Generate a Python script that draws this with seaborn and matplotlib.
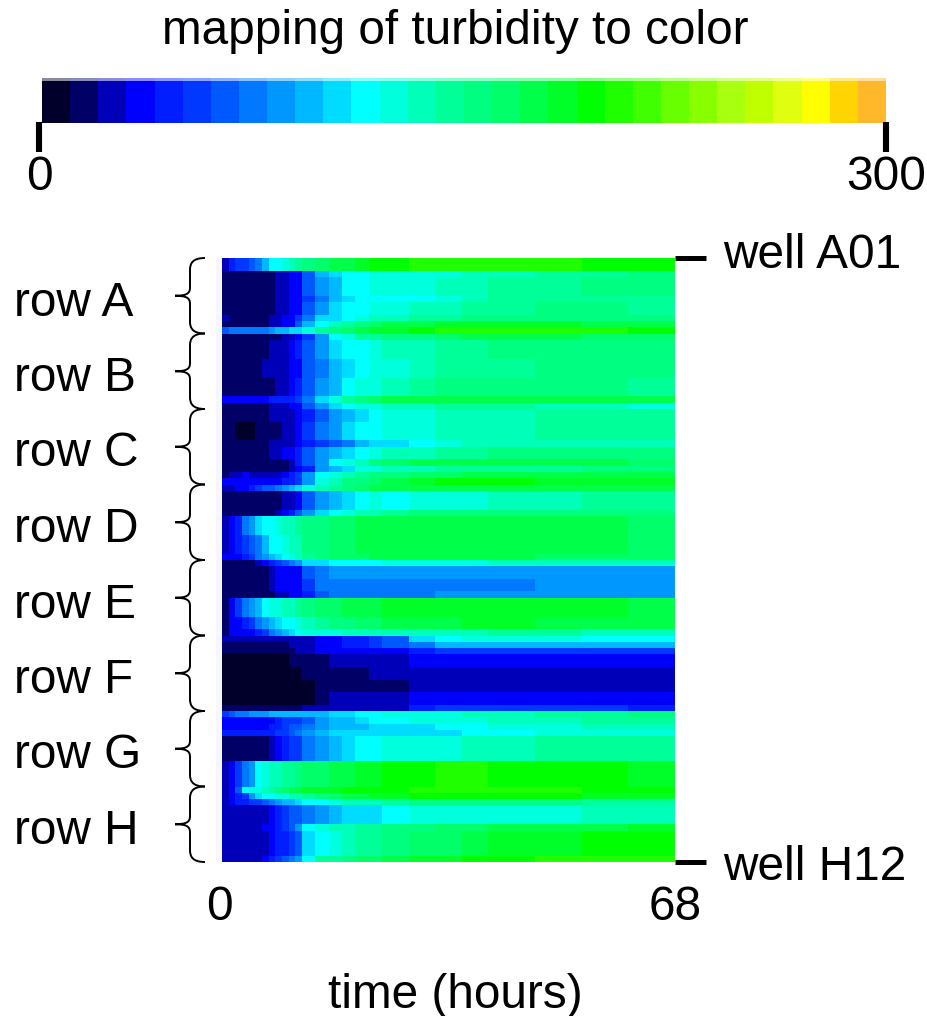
import numpy as np
import matplotlib
matplotlib.use("Agg")
import matplotlib.pyplot as plt
from matplotlib.colors import ListedColormap, BoundaryNorm
from matplotlib.path import Path
from matplotlib.patches import PathPatch
import seaborn as sns

# Colour scale, one step per 10 turbidity units
scale_colors = ["#00002a", "#000066", "#0000b8", "#0000ff", "#001eff", "#0038ff",
                "#0058ff", "#0078ff", "#0098ff", "#00b8ff", "#00dcff", "#00ffff",
                "#00ffdc", "#00ffb8", "#00ff98", "#00ff80", "#00ff68", "#00ff48",
                "#00ff28", "#00ff00", "#20ff00", "#40ff00", "#68ff00", "#88ff00",
                "#a8ff10", "#c0ff00", "#e0ff10", "#ffff00", "#ffd400", "#ffb82a"]
scale_edges = np.arange(0, 310, 10)
well_labels = ["well A01", "well H12"]
row_labels = ["row A", "row B", "row C", "row D", "row E", "row F", "row G", "row H"]

# Hours covered by each sampled column
hour_spans = [1] * 12 + [2] * 6 + [4] * 4 + [7] * 4

# Each row of the plate: turbidity over time for runs of similar wells
row_a_wells = [2, 1, 3, 1, 2, 1, 1, 1]
row_a = [
    [25, 40, 50, 55, 60, 75, 95, 110, 118, 125, 130, 140, 150, 160, 170, 178, 185, 190, 195, 200, 200, 200, 200, 200, 198, 198],
    [15, 15, 15, 15, 15, 15, 15, 15, 20, 25, 30, 38, 65, 95, 105, 112, 118, 120, 122, 125, 128, 130, 135, 140, 145, 150],
    [10, 10, 10, 10, 10, 10, 10, 15, 20, 25, 30, 35, 60, 80, 95, 110, 118, 122, 125, 128, 130, 135, 140, 145, 150, 150],
    [15, 15, 10, 10, 15, 15, 15, 15, 20, 25, 30, 35, 55, 75, 90, 105, 110, 115, 118, 118, 125, 135, 140, 145, 145, 140],
    [15, 15, 10, 10, 10, 10, 10, 15, 20, 25, 30, 35, 60, 80, 100, 110, 118, 122, 125, 130, 135, 140, 145, 150, 150, 145],
    [20, 15, 15, 15, 15, 15, 15, 20, 25, 30, 35, 50, 75, 100, 105, 118, 125, 130, 135, 140, 145, 150, 155, 155, 150, 150],
    [15, 15, 15, 15, 15, 15, 15, 20, 25, 30, 35, 60, 95, 118, 130, 145, 155, 160, 170, 175, 180, 185, 185, 180, 175, 170],
    [65, 70, 70, 70, 70, 70, 75, 85, 90, 95, 100, 105, 120, 140, 155, 165, 175, 180, 185, 195, 200, 205, 205, 205, 200, 195],
]
row_b_wells = [1, 3, 3, 3, 1, 1]
row_b = [
    [15, 15, 15, 15, 15, 15, 15, 15, 15, 20, 25, 30, 50, 85, 110, 125, 140, 145, 150, 155, 165, 170, 170, 170, 165, 165],
    [15, 15, 15, 15, 15, 15, 15, 25, 25, 28, 35, 40, 65, 85, 100, 110, 118, 122, 130, 135, 140, 145, 150, 150, 150, 150],
    [15, 15, 15, 15, 15, 15, 20, 25, 25, 28, 35, 35, 60, 75, 90, 105, 118, 122, 128, 135, 140, 145, 145, 150, 150, 150],
    [15, 12, 10, 10, 12, 15, 15, 15, 20, 25, 30, 40, 60, 80, 95, 110, 120, 125, 135, 145, 150, 155, 155, 150, 150, 145],
    [30, 30, 30, 35, 35, 30, 35, 40, 40, 40, 45, 50, 70, 100, 125, 140, 150, 160, 170, 175, 175, 175, 175, 170, 170, 170],
    [15, 15, 15, 15, 15, 15, 15, 20, 25, 28, 30, 35, 60, 80, 100, 115, 120, 125, 130, 135, 140, 140, 140, 135, 130, 125],
]
row_c_wells = [2, 3, 1, 2, 1, 1, 1, 1]
row_c = [
    [15, 15, 15, 12, 12, 15, 15, 20, 20, 25, 28, 30, 45, 65, 85, 95, 105, 118, 120, 125, 130, 135, 138, 140, 140, 140],
    [12, 12, 8, 8, 8, 12, 15, 15, 15, 25, 28, 30, 50, 70, 85, 100, 110, 118, 120, 125, 130, 135, 138, 140, 140, 140],
    [10, 10, 10, 10, 15, 15, 15, 20, 25, 25, 28, 30, 40, 50, 60, 75, 90, 100, 105, 118, 125, 130, 130, 135, 135, 130],
    [15, 15, 10, 10, 15, 15, 15, 20, 25, 35, 35, 40, 65, 85, 95, 105, 118, 125, 130, 135, 140, 145, 150, 150, 150, 150],
    [10, 10, 10, 10, 15, 15, 15, 15, 15, 15, 25, 45, 60, 80, 110, 125, 130, 150, 160, 170, 170, 170, 175, 175, 170, 165],
    [10, 10, 10, 10, 10, 10, 15, 15, 15, 15, 20, 30, 45, 80, 90, 100, 120, 125, 130, 130, 140, 145, 145, 145, 150, 150],
    [15, 20, 25, 30, 25, 25, 25, 25, 25, 35, 45, 50, 85, 110, 125, 135, 145, 150, 155, 160, 165, 170, 175, 175, 170, 170],
    [30, 30, 30, 30, 35, 35, 35, 35, 35, 40, 45, 50, 85, 120, 135, 150, 155, 165, 175, 180, 190, 190, 190, 185, 185, 180],
]
row_d_wells = [1, 3, 1, 3, 3, 1]
row_d = [
    [20, 20, 30, 35, 40, 50, 60, 65, 75, 85, 90, 100, 120, 135, 145, 155, 165, 170, 170, 172, 172, 172, 172, 170, 170, 170],
    [10, 10, 10, 10, 10, 10, 15, 15, 15, 20, 25, 30, 65, 85, 95, 105, 118, 120, 118, 120, 125, 125, 130, 135, 140, 140],
    [15, 15, 15, 15, 15, 15, 15, 15, 25, 30, 40, 60, 85, 100, 115, 125, 130, 135, 145, 150, 155, 155, 155, 155, 155, 155],
    [25, 35, 45, 70, 85, 100, 110, 118, 125, 130, 135, 140, 150, 158, 165, 168, 170, 172, 175, 175, 178, 178, 175, 172, 170, 168],
    [25, 35, 40, 50, 60, 75, 90, 110, 118, 125, 130, 135, 150, 158, 165, 168, 170, 172, 175, 175, 175, 175, 175, 172, 170, 168],
    [30, 30, 35, 45, 55, 70, 80, 95, 105, 118, 125, 130, 145, 155, 160, 165, 168, 170, 170, 170, 170, 170, 170, 168, 165, 165],
]
row_e_wells = [1, 2, 2, 1, 3, 2, 1]
row_e = [
    [10, 10, 10, 10, 15, 20, 30, 40, 50, 60, 70, 80, 100, 105, 110, 115, 118, 118, 120, 120, 125, 125, 130, 130, 130, 130],
    [15, 15, 15, 15, 15, 15, 15, 25, 30, 30, 35, 35, 60, 78, 85, 88, 88, 88, 88, 88, 88, 88, 88, 88, 88, 88],
    [10, 10, 10, 10, 10, 10, 15, 25, 30, 30, 35, 35, 55, 70, 75, 75, 75, 75, 75, 75, 75, 75, 78, 85, 85, 85],
    [15, 15, 15, 15, 15, 15, 15, 15, 20, 25, 30, 30, 45, 60, 70, 75, 78, 78, 78, 78, 80, 85, 85, 85, 85, 85],
    [15, 35, 50, 70, 80, 95, 115, 120, 125, 130, 135, 140, 150, 160, 165, 170, 175, 178, 182, 185, 188, 188, 188, 185, 182, 178],
    [15, 30, 35, 40, 55, 70, 80, 90, 100, 110, 118, 125, 135, 145, 150, 155, 160, 165, 170, 175, 178, 180, 180, 178, 175, 172],
    [15, 30, 30, 35, 35, 40, 50, 70, 85, 95, 100, 110, 120, 125, 125, 130, 130, 130, 130, 135, 135, 135, 140, 140, 135, 135],
]
row_f_wells = [1, 1, 1, 2, 2, 2, 2, 1]
row_f = [
    [20, 20, 20, 20, 20, 20, 20, 20, 22, 25, 25, 25, 28, 30, 35, 40, 45, 50, 60, 100, 118, 120, 120, 120, 118, 115],
    [15, 15, 15, 15, 15, 15, 15, 15, 18, 18, 20, 20, 25, 30, 35, 40, 45, 50, 60, 75, 90, 95, 95, 95, 90, 90],
    [10, 10, 10, 10, 10, 10, 10, 10, 10, 10, 15, 20, 25, 30, 35, 35, 35, 35, 38, 45, 50, 50, 50, 50, 50, 50],
    [5, 5, 5, 5, 5, 5, 5, 5, 5, 5, 10, 15, 15, 15, 20, 20, 25, 25, 28, 32, 35, 38, 38, 38, 38, 38],
    [5, 5, 5, 5, 5, 5, 5, 5, 5, 5, 5, 5, 10, 10, 15, 15, 18, 20, 20, 20, 28, 28, 28, 28, 28, 28],
    [5, 5, 5, 5, 5, 5, 5, 5, 5, 5, 5, 5, 5, 10, 12, 15, 15, 15, 15, 20, 25, 28, 28, 28, 28, 28],
    [5, 5, 5, 5, 5, 5, 5, 5, 5, 5, 5, 5, 5, 15, 20, 20, 25, 28, 28, 30, 32, 35, 35, 35, 35, 35],
    [10, 10, 10, 10, 10, 10, 10, 10, 10, 15, 15, 15, 20, 20, 25, 25, 25, 25, 25, 40, 55, 55, 55, 55, 50, 45],
]
row_g_wells = [1, 1, 1, 1, 4, 4]
row_g = [
    [50, 60, 70, 75, 80, 85, 85, 90, 90, 90, 95, 95, 95, 95, 100, 105, 110, 115, 120, 125, 125, 130, 135, 140, 145, 150],
    [35, 35, 35, 35, 35, 35, 35, 35, 40, 50, 55, 55, 65, 80, 90, 95, 105, 110, 115, 120, 125, 125, 130, 135, 140, 140],
    [38, 38, 38, 38, 38, 38, 38, 40, 45, 50, 60, 65, 75, 85, 90, 95, 95, 100, 100, 105, 112, 118, 120, 125, 130, 130],
    [40, 40, 40, 40, 40, 40, 40, 45, 50, 55, 60, 70, 85, 95, 100, 100, 100, 100, 100, 105, 105, 110, 115, 120, 125, 125],
    [15, 15, 15, 15, 15, 15, 15, 25, 30, 40, 50, 55, 70, 85, 95, 105, 115, 118, 125, 125, 125, 130, 135, 140, 140, 140],
    [25, 35, 55, 75, 85, 118, 125, 130, 135, 140, 145, 150, 160, 168, 172, 176, 180, 185, 192, 198, 200, 200, 198, 195, 190, 185],
]
row_h_wells = [1, 1, 1, 3, 1, 4, 1]
row_h = [
    [25, 35, 60, 110, 120, 125, 130, 140, 150, 160, 170, 175, 180, 185, 188, 190, 192, 195, 198, 202, 205, 205, 205, 200, 198, 195],
    [25, 35, 40, 55, 80, 100, 110, 115, 120, 125, 130, 135, 145, 155, 165, 172, 178, 182, 188, 192, 195, 195, 195, 190, 185, 180],
    [25, 35, 40, 45, 50, 55, 60, 70, 80, 90, 95, 100, 110, 118, 125, 130, 130, 130, 140, 150, 150, 155, 155, 150, 145, 140],
    [20, 20, 20, 20, 20, 20, 20, 30, 45, 55, 60, 65, 75, 85, 95, 100, 100, 105, 118, 120, 120, 120, 125, 125, 130, 130],
    [20, 20, 20, 25, 25, 25, 30, 30, 40, 50, 60, 80, 115, 125, 130, 135, 140, 145, 150, 155, 160, 165, 170, 175, 178, 180],
    [20, 20, 20, 20, 20, 20, 25, 30, 40, 45, 55, 60, 100, 118, 128, 135, 140, 145, 152, 160, 168, 175, 182, 188, 192, 195],
    [25, 25, 25, 25, 25, 25, 35, 45, 50, 60, 75, 85, 118, 140, 148, 155, 162, 168, 175, 182, 188, 192, 198, 200, 202, 202],
]

all_rows = row_a + row_b + row_c + row_d + row_e + row_f + row_g + row_h
all_wells = (row_a_wells + row_b_wells + row_c_wells + row_d_wells
             + row_e_wells + row_f_wells + row_g_wells + row_h_wells)
turbidity = np.repeat(np.repeat(np.array(all_rows), all_wells, axis=0), hour_spans, axis=1)

cmap = ListedColormap(scale_colors)
norm = BoundaryNorm(scale_edges, cmap.N)

plt.rcParams["font.family"] = ["Liberation Sans", "DejaVu Sans"]
W, H = 928, 1016
fig = plt.figure(figsize=(W / 100, H / 100), dpi=100)


def px_axes(x0, y0, x1, y1):
    return fig.add_axes([x0 / W, 1 - y1 / H, (x1 - x0) / W, (y1 - y0) / H])


# Colour key
ax_key = px_axes(42, 78, 886, 123)
sns.heatmap([scale_edges[:-1] + 5], cmap=cmap, norm=norm, cbar=False, ax=ax_key,
            xticklabels=False, yticklabels=False)

# Plate heatmap
ax_map = px_axes(222, 258, 675, 862)
sns.heatmap(turbidity, cmap=cmap, norm=norm, cbar=False, ax=ax_map,
            xticklabels=False, yticklabels=False)

# Annotations in pixel coordinates on a clear overlay
ov = fig.add_axes([0, 0, 1, 1], facecolor="none")
ov.set_xlim(0, W)
ov.set_ylim(H, 0)
ov.axis("off")

FS = 34.4
ov.text(455, 31, "mapping of turbidity to color", fontsize=FS, ha="center", va="center")
for x, lab in [(39, "0"), (886, "300")]:
    ov.plot([x, x], [122, 152], color="black", lw=4.4, solid_capstyle="butt")
    ov.text(x, 178, lab, fontsize=FS, ha="center", va="center")

ov.add_patch(plt.Rectangle((42, 76), 844, 5, color="white", alpha=0.55, lw=0))
ov.add_patch(plt.Rectangle((216, 258), 6, 604, color="#eeeeff", alpha=0.5, lw=0))

for y, lab in zip([258, 862], well_labels):
    ov.plot([675, 706], [y, y], color="black", lw=3.6, solid_capstyle="butt")
    ov.text(723, y - 2 if y == 258 else y + 6, lab, fontsize=FS, ha="left", va="center")

ov.text(219, 907, "0", fontsize=FS, ha="center", va="center")
ov.text(675, 907, "68", fontsize=FS, ha="center", va="center")
ov.text(455, 995, "time (hours)", fontsize=FS, ha="center", va="center")


def brace(y0, y1):
    m = (y0 + y1) / 2
    verts = [(205, y0), (192, y0), (190, y0 + 6), (190, y0 + 12),
             (190, m - 8),
             (190, m - 2), (186, m), (175, m),
             (186, m), (190, m + 2), (190, m + 8),
             (190, y1 - 12),
             (190, y1 - 6), (192, y1), (205, y1)]
    codes = [Path.MOVETO, Path.CURVE4, Path.CURVE4, Path.CURVE4,
             Path.LINETO,
             Path.CURVE4, Path.CURVE4, Path.CURVE4,
             Path.CURVE4, Path.CURVE4, Path.CURVE4,
             Path.LINETO,
             Path.CURVE4, Path.CURVE4, Path.CURVE4]
    ov.add_patch(PathPatch(Path(verts, codes), fc="none", ec="black", lw=1.4))


for i, lab in enumerate(row_labels):
    y0 = 258 + i * 75.5
    brace(y0, y0 + 75.5)
    ov.text(14, y0 + 45, lab, fontsize=FS, ha="left", va="center")

plt.savefig("out.png", dpi=100)
